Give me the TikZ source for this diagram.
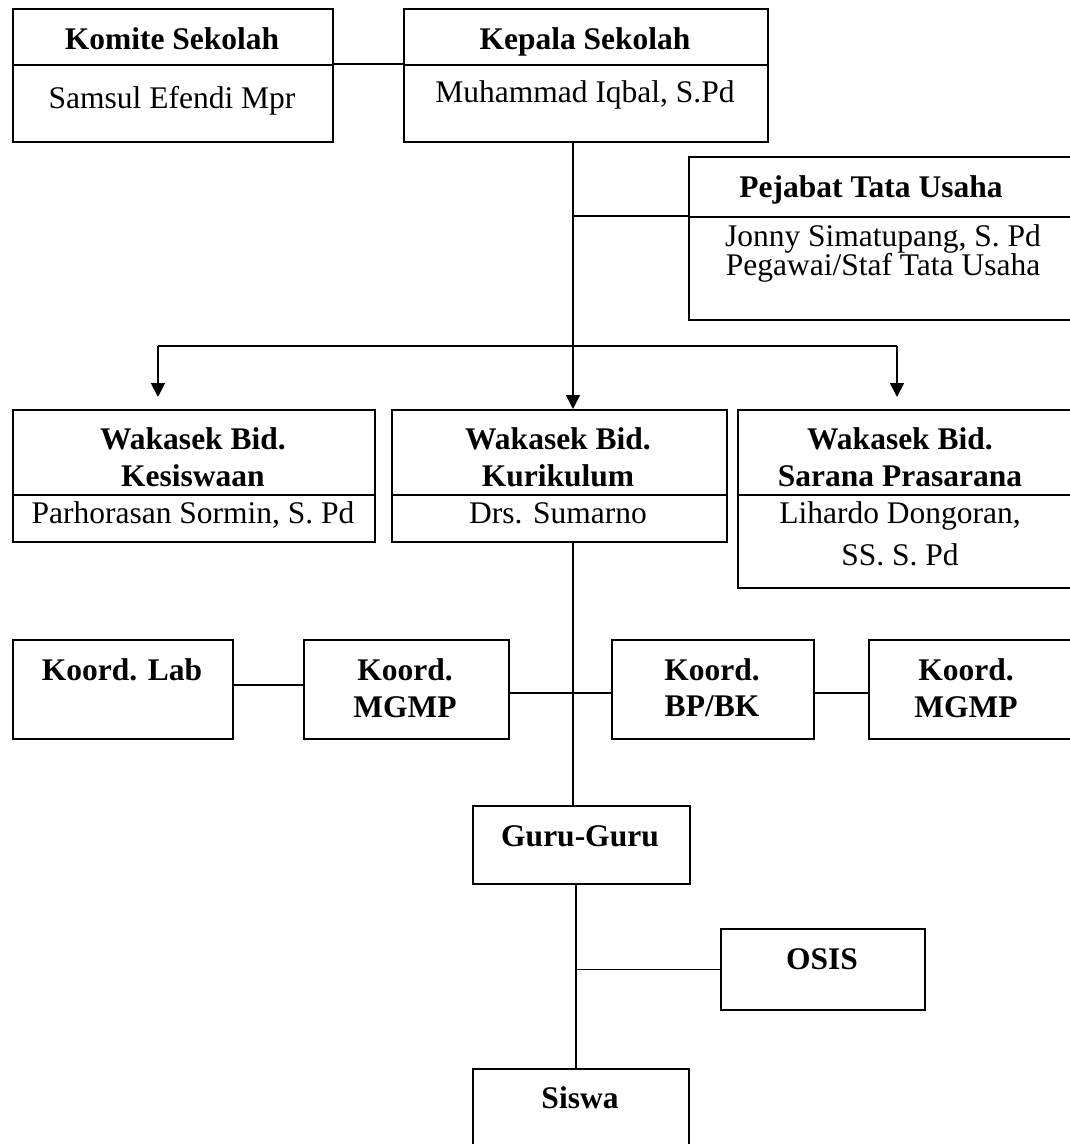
\documentclass[tikz,border=0pt]{standalone}
\usepackage{fontspec}
\setmainfont{Liberation Serif}
\usetikzlibrary{arrows.meta}

\begin{document}
\begin{tikzpicture}[x=1pt,y=-1pt]

	\tikzstyle box=[draw, line width=1.6pt, inner sep=0pt, anchor=north west];
	\tikzstyle title text=[font=\fontsize{31.5}{37}\selectfont\bfseries, align=center, anchor=base, inner sep=0pt];
	\tikzstyle person text=[font=\fontsize{31.5}{37}\selectfont, align=center, anchor=base, inner sep=0pt];
	\tikzstyle link lines=[line width=1.6pt];
	\tikzstyle arrow lines=[line width=1.7pt, -{Triangle[length=14pt,width=14pt]}];

	\useasboundingbox (0,0) rectangle (1070,1144);

	% komite and kepala sekolah
	\node[box, minimum width=320, minimum height=56] (komh) at (12,8) {};
	\node[box, minimum width=320, minimum height=77] (komb) at (12,64) {};
	\node[title text] (komht) at (172,49) {Komite Sekolah};
	\node[person text] (kombt) at (172,108) {Samsul Efendi Mpr};
	\node[box, minimum width=364, minimum height=56] (keph) at (403,8) {};
	\node[box, minimum width=364, minimum height=77] (kepb) at (403,64) {};
	\node[title text] (kepht) at (585,49) {Kepala Sekolah};
	\node[person text] (kepbt) at (585,102) {Muhammad Iqbal, S.Pd};

	% tata usaha
	\node[box, minimum width=383, minimum height=60] (pejh) at (688,156) {};
	\node[box, minimum width=383, minimum height=103] (pejb) at (688,216) {};
	\node[title text] (pejht) at (871,197) {Pejabat Tata Usaha};
	\node[person text, font=\fontsize{31.5}{29}\selectfont] (pejbt) at (883,275) {Jonny Simatupang, S. Pd\\Pegawai/Staf Tata Usaha};

	% wakasek (base = last line)
	\node[box, minimum width=362, minimum height=85] (kesh) at (12,409) {};
	\node[box, minimum width=362, minimum height=47] (kesb) at (12,494) {};
	\node[title text] (kesht) at (193,486) {Wakasek Bid.\\Kesiswaan};
	\node[person text] (kesbt) at (193,523) {Parhorasan Sormin, S. Pd};
	\node[box, minimum width=335, minimum height=85] (kurh) at (391,409) {};
	\node[box, minimum width=335, minimum height=47] (kurb) at (391,494) {};
	\node[title text] (kurht) at (558,486) {Wakasek Bid.\\Kurikulum};
	\node[person text] (kurbt) at (558,523) {Drs. Sumarno};
	\node[box, minimum width=334, minimum height=85] (sarh) at (737,409) {};
	\node[box, minimum width=334, minimum height=93] (sarb) at (737,494) {};
	\node[title text] (sarht) at (900,486) {Wakasek Bid.\\Sarana Prasarana};
	\node[person text, font=\fontsize{31.5}{42}\selectfont] (sarbt) at (900,565) {Lihardo Dongoran,\\SS. S. Pd};

	% koordinator
	\node[box, minimum width=220, minimum height=99] (lab) at (12,639) {};
	\node[title text] (labt) at (122,680) {Koord. Lab};
	\node[box, minimum width=205, minimum height=99] (mgmpa) at (303,639) {};
	\node[title text] (mgmpat) at (405,717) {Koord.\\MGMP};
	\node[box, minimum width=202, minimum height=99] (bpbk) at (611,639) {};
	\node[title text, font=\fontsize{31.5}{36}\selectfont\bfseries] (bpbkt) at (712,716) {Koord.\\BP/BK};
	\node[box, minimum width=203, minimum height=99] (mgmpb) at (868,639) {};
	\node[title text] (mgmpbt) at (966,717) {Koord.\\MGMP};

	% guru, osis, siswa
	\node[box, minimum width=217, minimum height=78] (guru) at (472,805) {};
	\node[title text] (gurut) at (580,846) {Guru-Guru};
	\node[box, minimum width=204, minimum height=81] (osis) at (720,928) {};
	\node[title text] (osist) at (822,969) {OSIS};
	\node[box, minimum width=216, minimum height=90] (siswa) at (472,1068) {};
	\node[title text] (siswat) at (580,1108) {Siswa};

	% trunk points
	\coordinate (ktop) at (573,141);
	\coordinate (tpej) at (573,216);
	\coordinate (bl) at (158,346);
	\coordinate (br) at (897,346);
	\coordinate (al) at (158,397);
	\coordinate (ar) at (897,397);
	\coordinate (gtrunk) at (576,883);

	\draw[link lines] (komb.north east) -- (kepb.north west);
	\draw[arrow lines] (ktop) -- (kurh.north -| ktop);
	\draw[link lines] (tpej) -- (pejb.north west);
	\draw[link lines] (bl) -- (br);
	\draw[arrow lines] (bl) -- (al);
	\draw[arrow lines] (br) -- (ar);

	\draw[link lines] (kurb.south -| ktop) -- (guru.north -| ktop);
	\draw[link lines] ([yshift=4.5pt]lab.east) -- ([yshift=4.5pt]mgmpa.west);
	\draw[link lines] ([yshift=-3.5pt]mgmpa.east) -- ([yshift=-3.5pt]bpbk.west);
	\draw[link lines] ([yshift=-3.5pt]bpbk.east) -- ([yshift=-3.5pt]mgmpb.west);

	\draw[link lines] (gtrunk) -- (siswa.north -| gtrunk);
	\draw[link lines] (osis.west) -- (osis.west -| gtrunk);

\end{tikzpicture}
\end{document}
